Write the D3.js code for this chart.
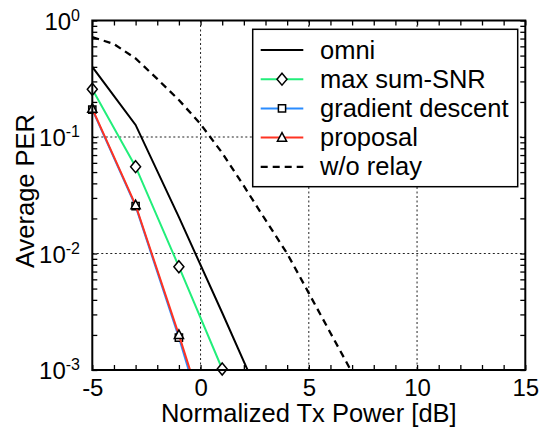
<!DOCTYPE html>
<html>
<head>
<meta charset="utf-8">
<script src="https://cdn.jsdelivr.net/npm/d3@7"></script>
<style>
  html, body { margin: 0; padding: 0; background: #fff; }
  svg { display: block; font-family: "Liberation Sans", Arial, Helvetica, sans-serif; }
</style>
</head>
<body>
<svg id="chart" width="544" height="432"></svg>
<script>
// Tx power grid (dB) for the relay schemes
const powerDb = [-5, -3, -1, 1, 3];
const omniPer = [0.40, 0.127, 0.0205, 0.0031, 0.00045];
const maxSumSnrPer = [0.257, 0.0556, 0.0077, 0.00102];
const gradientPer = [0.172, 0.0255, 0.0019, 0.00011];
const proposalPer = [0.175, 0.026, 0.002, 0.000135];

// Direct link without relay
const noRelayDb = [-5, -4, -3, -2, -1, 0, 1, 2, 3, 4, 5, 6, 7];
const noRelayPer = [0.72, 0.628, 0.472, 0.315, 0.208, 0.129, 0.073, 0.038, 0.0194, 0.0100, 0.00457, 0.00208, 0.00095];

const seriesNames = ["omni", "max sum-SNR", "gradient descent", "proposal", "w/o relay"];
const xTickValues = [-5, 0, 5, 10, 15];
const yTickExponents = [0, -1, -2, -3];
const xGridValues = [0, 5, 10];
const yGridExponents = [-1, -2];

const svg = d3.select("#chart");
const pLeft = 92.3, pRight = 525.3, pTop = 20.5, pBottom = 370;

const x = d3.scaleLinear().domain([-5, 15]).range([pLeft, pRight]);
const y = d3.scaleLog().domain([1e-3, 1]).range([pBottom, pTop]);

svg.append("rect").attr("width", 544).attr("height", 432).attr("fill", "#fff");

svg.append("defs").append("clipPath").attr("id", "plotClip")
  .append("rect").attr("x", pLeft).attr("y", pTop)
  .attr("width", pRight - pLeft).attr("height", pBottom - pTop);

// dotted grid
const grid = svg.append("g").attr("stroke", "#222").attr("stroke-width", 1)
  .attr("stroke-dasharray", "2,2.5");
grid.selectAll("line.vx").data(xGridValues).join("line")
  .attr("x1", d => x(d)).attr("x2", d => x(d)).attr("y1", pTop).attr("y2", pBottom);
grid.selectAll("line.hy").data(yGridExponents).join("line")
  .attr("y1", d => y(Math.pow(10, d))).attr("y2", d => y(Math.pow(10, d)))
  .attr("x1", pLeft).attr("x2", pRight);

// axes with inward ticks
const minorX = d3.range(-5, 16, 1);
const logTicks = [];
for (let e = -3; e < 0; e++) for (let m = 1; m < 10; m++) logTicks.push(m * Math.pow(10, e));
logTicks.push(1);

function styleAxis(g) {
  g.select(".domain").remove();
  g.selectAll(".tick line").attr("stroke", "#000").attr("stroke-width", 1.3);
}

const xb = svg.append("g").attr("transform", `translate(0,${pBottom})`)
  .call(d3.axisBottom(x).tickValues(minorX).tickSize(-5).tickPadding(9)
    .tickFormat(d => xTickValues.includes(d) ? String(d) : ""));
styleAxis(xb);
xb.selectAll(".tick text").attr("font-size", 24).attr("fill", "#000")
  .attr("font-family", "Liberation Sans, Arial, sans-serif");

const xt = svg.append("g").attr("transform", `translate(0,${pTop})`)
  .call(d3.axisTop(x).tickValues(minorX).tickSize(-5).tickFormat(""));
styleAxis(xt);

const yl = svg.append("g").attr("transform", `translate(${pLeft},0)`)
  .call(d3.axisLeft(y).tickValues(logTicks).tickSize(-5).tickFormat(""));
styleAxis(yl);
const yr = svg.append("g").attr("transform", `translate(${pRight},0)`)
  .call(d3.axisRight(y).tickValues(logTicks).tickSize(-5).tickFormat(""));
styleAxis(yr);

// decade labels 10^n
const yLab = svg.append("g");
yTickExponents.forEach(e => {
  const t = yLab.append("text").attr("x", 80).attr("y", y(Math.pow(10, e)) + 9)
    .attr("text-anchor", "end").attr("fill", "#000");
  t.append("tspan").attr("font-size", 24).text("10");
  t.append("tspan").attr("font-size", 16).attr("dy", -9).text(e === 0 ? "0" : "-" + (-e));
});

// axis titles
svg.append("text").attr("x", (pLeft + pRight) / 2).attr("y", 422)
  .attr("text-anchor", "middle").attr("font-size", 25.5).attr("fill", "#000")
  .text("Normalized Tx Power [dB]");
svg.append("text").attr("transform", `translate(34,${191}) rotate(-90)`)
  .attr("text-anchor", "middle").attr("font-size", 25.5).attr("fill", "#000")
  .text("Average PER");

// series
const styles = [
  { color: "#000000", dash: null, marker: null, w: 2 },
  { color: "#22ee7a", dash: null, marker: "diamond", w: 2 },
  { color: "#2a8cff", dash: null, marker: "square", w: 2 },
  { color: "#ff3322", dash: null, marker: "triangle", w: 2 },
  { color: "#000000", dash: "7,5", marker: null, w: 2.3 }
];
const series = [
  { xs: powerDb, ys: omniPer },
  { xs: powerDb, ys: maxSumSnrPer },
  { xs: powerDb, ys: gradientPer },
  { xs: powerDb, ys: proposalPer },
  { xs: noRelayDb, ys: noRelayPer }
];

const line = d3.line().x(d => x(d[0])).y(d => y(d[1]));

function markerPath(kind) {
  if (kind === "diamond") return "M0,-6L5,0L0,6L-5,0Z";
  if (kind === "square") return "M-3.6,-3.6H3.6V3.6H-3.6Z";
  if (kind === "triangle") return "M0,-5L4.6,3.6H-4.6Z";
  return "";
}

const plot = svg.append("g");
series.forEach((s, i) => {
  const st = styles[i];
  const pts = s.xs.slice(0, s.ys.length).map((v, k) => [v, s.ys[k]]);
  plot.append("path").datum(pts).attr("d", line)
    .attr("clip-path", "url(#plotClip)")
    .attr("fill", "none").attr("stroke", st.color).attr("stroke-width", st.w)
    .attr("stroke-dasharray", st.dash);
  if (st.marker) {
    const inside = pts.filter(p => p[1] >= 1e-3 * 0.98 && p[1] <= 1);
    plot.selectAll(null).data(inside).join("path")
      .attr("transform", p => `translate(${x(p[0])},${y(p[1])})`)
      .attr("d", markerPath(st.marker))
      .attr("fill", "#fff").attr("stroke", "#000").attr("stroke-width", 1.5);
  }
});

// frame
svg.append("rect").attr("x", pLeft).attr("y", pTop)
  .attr("width", pRight - pLeft).attr("height", pBottom - pTop)
  .attr("fill", "none").attr("stroke", "#000").attr("stroke-width", 2);

// legend
const lg = svg.append("g");
lg.append("rect").attr("x", 252.7).attr("y", 29.3).attr("width", 265).attr("height", 157.4)
  .attr("fill", "#fff").attr("stroke", "#000").attr("stroke-width", 1.5);
seriesNames.forEach((name, i) => {
  const st = styles[i];
  const ry = 50 + i * 29.2;
  lg.append("line").attr("x1", 260.7).attr("x2", 303.3).attr("y1", ry).attr("y2", ry)
    .attr("stroke", st.color).attr("stroke-width", st.w).attr("stroke-dasharray", st.dash);
  if (st.marker) {
    lg.append("path").attr("transform", `translate(282,${ry})`)
      .attr("d", markerPath(st.marker))
      .attr("fill", "#fff").attr("stroke", "#000").attr("stroke-width", 1.5);
  }
  lg.append("text").attr("x", 320).attr("y", ry + 8.5)
    .attr("font-size", 25.5).attr("fill", "#000").text(name);
});
</script>
</body>
</html>
